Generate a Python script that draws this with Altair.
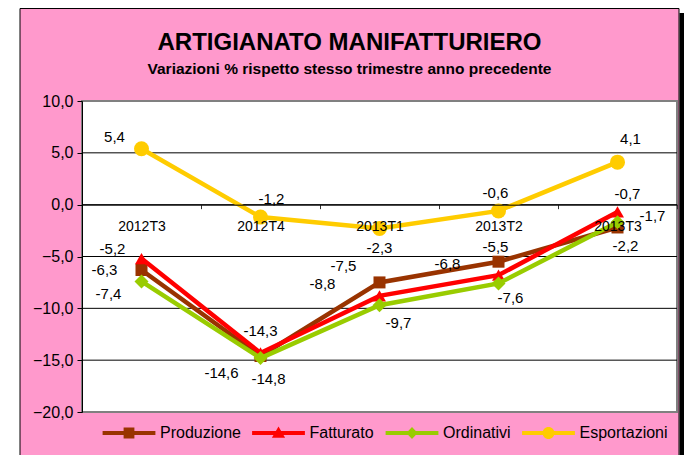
import altair as alt
import pandas as pd

# ---------------- data ----------------
categories = ["2012T3", "2012T4", "2013T1", "2013T2", "2013T3"]
series_names = ["Produzione", "Fatturato", "Ordinativi", "Esportazioni"]
produzione = [-6.3, -14.6, -7.5, -5.5, -2.2]
fatturato = [-5.2, -14.3, -8.8, -6.8, -0.7]
ordinativi = [-7.4, -14.8, -9.7, -7.6, -1.7]
esportazioni = [5.4, -1.2, -2.3, -0.6, 4.1]
y_ticks = [-20, -15, -10, -5, 0, 5, 10]
grid_values = [-15, -10, -5, 0, 5]

# ---------------- styles ----------------
FONT = "Liberation Sans"
colors = ["#993300", "#FF0000", "#99CC00", "#FFCC00"]
shapes = ["square", "triangle-up", "diamond", "circle"]
sizes = [144, 169, 196, 225]
# label offsets (dx, dy) in pixels, per series and quarter
label_offsets = {
    "Produzione": [(-37, 0), (-39, 17), (-36, -16), (-3, -15), (8, 19)],
    "Fatturato": [(-29, -10), (0, -22), (-57, -12), (-51, -11), (10, -18)],
    "Ordinativi": [(-33, 13), (8, 21), (19, 18), (12, 15), (35, -6)],
    "Esportazioni": [(-27, -12), (11, -18), (0, 19), (-3, -18), (13, -23)],
}
LINE = "M-4.4,-0.35L4.4,-0.35L4.4,0.35L-4.4,0.35Z "
legend_paths = [
    LINE + "M-0.9,-0.9L0.9,-0.9L0.9,0.9L-0.9,0.9Z",
    LINE + "M0,-1.1L1.1,0.8L-1.1,0.8Z",
    LINE + "M0,-1L0.95,0L0,1L-0.95,0Z",
    LINE + "M-1,0A1,1 0 1,1 1,0A1,1 0 1,1 -1,0Z",
]

W, H = 595, 311
PAD_L, PAD_T, PAD_R, PAD_B = 74, 93, 7, 43

values = {"Produzione": produzione, "Fatturato": fatturato,
          "Ordinativi": ordinativi, "Esportazioni": esportazioni}
rows = []
for s in series_names:
    for c, v in zip(categories, values[s]):
        rows.append({"serie": s, "trimestre": c, "valore": v,
                     "label": f"{v:.1f}".replace(".", ",")})
df = pd.DataFrame(rows)

ymin, ymax = y_ticks[0], y_ticks[-1]
x_enc = alt.X(
    "trimestre:N", sort=categories,
    scale=alt.Scale(type="band", domain=categories, paddingInner=0, paddingOuter=0),
    axis=alt.Axis(title=None, labelAngle=0, labelFontSize=14, labelFont=FONT,
                  labelColor="black", tickBand="extent", tickSize=4,
                  tickColor="#333333", domainColor="black", domainWidth=1,
                  labelPadding=11, grid=False, zindex=1,
                  offset=-(H * (0 - ymin) / (ymax - ymin))),
)
y_scale = alt.Scale(domain=[ymin, ymax], nice=False, zero=False)
y_enc = alt.Y(
    "valore:Q", scale=y_scale,
    axis=alt.Axis(title=None, values=y_ticks, grid=False, tickSize=5,
                  tickColor="black", domainColor="black", domainWidth=1,
                  labelFontSize=16, labelFont=FONT, labelColor="black",
                  labelPadding=4, zindex=1,
                  labelExpr="replace(format(datum.value, '.1f'), '.', ',')"),
)

color_scale = alt.Scale(domain=series_names, range=colors)
legend_kw = dict(
    title=None, orient="none", direction="horizontal",
    legendX=39, legendY=324, labelFontSize=16, labelFont=FONT,
    labelColor="black", symbolSize=144, labelOffset=23,
    columnPadding=10.5, padding=0, symbolStrokeWidth=0, zindex=1,
)
color_nolegend = alt.Color("serie:N", scale=color_scale, legend=None)

one = pd.DataFrame({"k": [0]})
box = alt.Chart(one).mark_rect(fill="#FF99CC", stroke="black", strokeWidth=1).encode(
    x=alt.value(-62), x2=alt.value(597), y=alt.value(-92.5), y2=alt.value(H + 60))
shadow = alt.Chart(one).mark_rect(fill="black").encode(
    x=alt.value(597.5), x2=alt.value(W + PAD_R), y=alt.value(-88), y2=alt.value(H + 60))
plot_bg = alt.Chart(one).mark_rect(fill="white", stroke="#808080", strokeWidth=2).encode(
    x=alt.value(0), x2=alt.value(W), y=alt.value(0), y2=alt.value(H))

grid = alt.Chart(pd.DataFrame({"valore": grid_values})).mark_rule(
    color="black", strokeWidth=1).encode(y=y_enc)

# legend-only layer (no marks drawn, it only carries the legend)
legend_layer = alt.Chart(df).transform_filter("false").mark_point(
    filled=True, opacity=1, strokeWidth=0).encode(
    x=x_enc, y=y_enc,
    color=alt.Color("serie:N", scale=color_scale, legend=alt.Legend(**legend_kw)),
    shape=alt.Shape("serie:N", scale=alt.Scale(domain=series_names, range=legend_paths),
                    legend=alt.Legend(**legend_kw)),
)

layers = [box, shadow, plot_bg, grid, legend_layer]
for s, shp, sz in zip(series_names, shapes, sizes):
    base = alt.Chart(df).transform_filter(alt.datum.serie == s)
    layers.append(base.mark_line(strokeWidth=4.5).encode(x=x_enc, y=y_enc, color=color_nolegend))
    layers.append(base.mark_point(shape=shp, size=sz, filled=True, opacity=1,
                                  strokeWidth=0).encode(x=x_enc, y=y_enc, color=color_nolegend))

for s in series_names:
    for c, (dx, dy) in zip(categories, label_offsets[s]):
        layers.append(
            alt.Chart(df).transform_filter(
                (alt.datum.serie == s) & (alt.datum.trimestre == c)
            ).mark_text(dx=dx, dy=dy, fontSize=15, font=FONT, color="black").encode(
                x=x_enc, y=y_enc, text="label:N")
        )

chart = alt.layer(*layers).properties(
    width=W, height=H,
    padding={"left": PAD_L, "top": PAD_T, "right": PAD_R, "bottom": PAD_B},
    autosize=alt.AutoSizeParams(type="none"),
    background="white",
    title=alt.TitleParams(
        text="ARTIGIANATO MANIFATTURIERO",
        subtitle="Variazioni % rispetto stesso trimestre anno precedente",
        font=FONT, subtitleFont=FONT, fontSize=24, subtitleFontSize=15.5,
        fontWeight="bold", subtitleFontWeight="bold", color="black",
        subtitleColor="black", anchor="middle", frame="group", dx=-30,
        offset=-69, subtitlePadding=7, zindex=1),
).configure_view(stroke="transparent")

chart.save("out.html", embed_options={"renderer": "svg", "actions": False})
